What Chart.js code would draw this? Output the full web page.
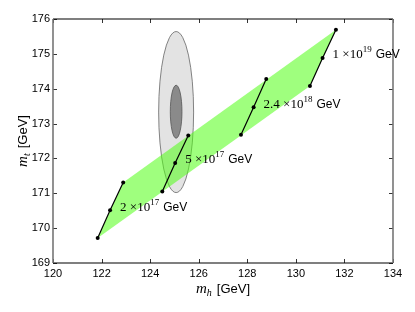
<!DOCTYPE html>
<html>
<head>
<meta charset="utf-8">
<script src="https://cdn.jsdelivr.net/npm/chart.js@4.4.1/dist/chart.umd.min.js"></script>
<style>
  html, body { margin: 0; padding: 0; background: #fff; }
  #wrap { width: 415px; height: 312px; }
</style>
</head>
<body>
<div id="wrap"><canvas id="c" width="415" height="312"></canvas></div>
<script>
// 각 스케일(Λ)별 (m_h, m_t) 점 — 그림에서 읽음
const scaleMant = ["2", "5", "2.4", "1"];
const scaleExp = ["17", "17", "18", "19"];
const line2e17 = [[121.84, 169.72], [122.35, 170.51], [122.89, 171.31]];
const line5e17 = [[124.50, 171.05], [125.03, 171.87], [125.57, 172.66]];
const line24e18 = [[127.74, 172.68], [128.26, 173.47], [128.78, 174.28]];
const line1e19 = [[130.58, 174.08], [131.10, 174.88], [131.65, 175.69]];
// 실험 타원: 중심, 반축 (GeV)
const ellipseOuter = [125.07, 173.33, 0.72, 2.31];
const ellipseInner = [125.07, 173.34, 0.24, 0.76];
const xTicks = [120, 122, 124, 126, 128, 130, 132, 134];
const yTicks = [169, 170, 171, 172, 173, 174, 175, 176];

const lines = [line2e17, line5e17, line24e18, line1e19];
const pts = (arr) => arr.map(([x, y]) => ({ x, y }));
const band = pts([line2e17[0], line2e17[2], line1e19[2], line1e19[0], line2e17[0]]);

const SANS = "'Liberation Sans', Arial, sans-serif";
const SERIF = "'Liberation Serif', 'DejaVu Serif', serif";

function drawEllipse(ctx, xs, ys, e, fill, stroke) {
  const cx = xs.getPixelForValue(e[0]), cy = ys.getPixelForValue(e[1]);
  const rx = Math.abs(xs.getPixelForValue(e[0] + e[2]) - cx);
  const ry = Math.abs(ys.getPixelForValue(e[1] + e[3]) - cy);
  ctx.beginPath();
  ctx.ellipse(cx, cy, rx, ry, 0, 0, Math.PI * 2);
  ctx.fillStyle = fill; ctx.fill();
  ctx.lineWidth = 0.8; ctx.strokeStyle = stroke; ctx.stroke();
}

// 수식 라벨: 세리프 숫자 + 위첨자 + 산세리프 GeV
function sciLabel(ctx, x, y, mant, exp) {
  ctx.textBaseline = "middle"; ctx.textAlign = "left"; ctx.fillStyle = "#000";
  ctx.font = `13px ${SERIF}`;
  let t = mant + " ×10";
  ctx.fillText(t, x, y + 1);
  x += ctx.measureText(t).width;
  ctx.font = `9px ${SERIF}`;
  ctx.fillText(exp, x, y - 4);
  x += ctx.measureText(exp).width + 4;
  ctx.font = `12px ${SANS}`;
  ctx.fillText("GeV", x, y + 1);
}

function axisTitle(ctx, sub) {
  ctx.textBaseline = "alphabetic"; ctx.fillStyle = "#000";
  ctx.font = `italic 15px ${SERIF}`;
  const w1 = ctx.measureText("m").width;
  ctx.font = `italic 10px ${SERIF}`;
  const w2 = ctx.measureText(sub).width;
  ctx.font = `13px ${SANS}`;
  const w3 = ctx.measureText("[GeV]").width;
  let x = -(w1 + w2 + 5 + w3) / 2;
  ctx.textAlign = "left";
  ctx.font = `italic 15px ${SERIF}`; ctx.fillText("m", x, 0); x += w1;
  ctx.font = `italic 10px ${SERIF}`; ctx.fillText(sub, x, 3); x += w2 + 5;
  ctx.font = `13px ${SANS}`; ctx.fillText("[GeV]", x, 0);
}

const deco = {
  id: "deco",
  beforeDatasetsDraw(chart) {
    const { ctx, scales: { x, y } } = chart;
    ctx.save();
    drawEllipse(ctx, x, y, ellipseOuter, "#e3e3e3", "#666");
    drawEllipse(ctx, x, y, ellipseInner, "#8a8a8a", "#555");
    ctx.restore();
  },
  afterDraw(chart) {
    const { ctx, chartArea: a, scales: { x, y } } = chart;
    ctx.save();
    // 안쪽 눈금
    ctx.strokeStyle = "#000"; ctx.lineWidth = 0.8;
    ctx.beginPath();
    xTicks.forEach((v) => {
      const px = Math.round(x.getPixelForValue(v)) + 0.5;
      ctx.moveTo(px, a.bottom); ctx.lineTo(px, a.bottom - 4);
      ctx.moveTo(px, a.top); ctx.lineTo(px, a.top + 4);
    });
    yTicks.forEach((v) => {
      const py = Math.round(y.getPixelForValue(v)) + 0.5;
      ctx.moveTo(a.left, py); ctx.lineTo(a.left + 4, py);
      ctx.moveTo(a.right, py); ctx.lineTo(a.right - 4, py);
    });
    ctx.stroke();
    // 테두리
    ctx.lineWidth = 1.2; ctx.strokeStyle = "#000";
    ctx.beginPath();
    ctx.moveTo(a.left, a.top); ctx.lineTo(a.right, a.top);
    ctx.moveTo(a.left, a.bottom); ctx.lineTo(a.right, a.bottom);
    ctx.stroke();
    ctx.lineWidth = 1.6; ctx.strokeStyle = "#777";
    ctx.beginPath();
    ctx.moveTo(a.left, a.top); ctx.lineTo(a.left, a.bottom);
    ctx.moveTo(a.right, a.top); ctx.lineTo(a.right, a.bottom);
    ctx.stroke();
    // 스케일 라벨 (각 선의 가운데 점 기준)
    lines.forEach((l, i) => {
      const px = x.getPixelForValue(l[1][0]), py = y.getPixelForValue(l[1][1]);
      sciLabel(ctx, px + 10, py - 4, scaleMant[i], scaleExp[i]);
    });
    // 축 제목
    ctx.save(); ctx.translate((a.left + a.right) / 2, 293); axisTitle(ctx, "h"); ctx.restore();
    ctx.save(); ctx.translate(27, (a.top + a.bottom) / 2); ctx.rotate(-Math.PI / 2); axisTitle(ctx, "t"); ctx.restore();
    ctx.restore();
  },
};

const lineSets = lines.map((l) => ({
  data: pts(l), showLine: true, borderColor: "#000", borderWidth: 1.2, order: 0,
  pointRadius: 2, pointBackgroundColor: "#000", pointBorderWidth: 0, fill: false,
}));

new Chart(document.getElementById("c"), {
  type: "scatter",
  data: {
    datasets: [
      { data: band, showLine: true, fill: "shape", backgroundColor: "rgba(80,255,20,0.55)", order: 10,
        borderWidth: 0, borderColor: "rgba(0,0,0,0)", pointRadius: 0, tension: 0 },
      ...lineSets,
    ],
  },
  options: {
    responsive: false, animation: false, events: [],
    layout: { padding: { left: 0, right: 22, top: 19, bottom: 0 } },
    plugins: { legend: { display: false }, tooltip: { enabled: false } },
    scales: {
      x: {
        type: "linear", min: 120, max: 134,
        afterFit: (s) => { s.height = 49; },
        afterBuildTicks: (s) => { s.ticks = xTicks.map((v) => ({ value: v })); },
        grid: { display: false, drawTicks: false }, border: { display: false },
        ticks: { color: "#000", padding: 4, font: { family: SANS, size: 11 } },
      },
      y: {
        type: "linear", min: 169, max: 176,
        afterFit: (s) => { s.width = 53; },
        afterBuildTicks: (s) => { s.ticks = yTicks.map((v) => ({ value: v })); },
        grid: { display: false, drawTicks: false }, border: { display: false },
        ticks: { color: "#000", padding: 3, font: { family: SANS, size: 11 } },
      },
    },
  },
  plugins: [deco],
});
</script>
</body>
</html>
